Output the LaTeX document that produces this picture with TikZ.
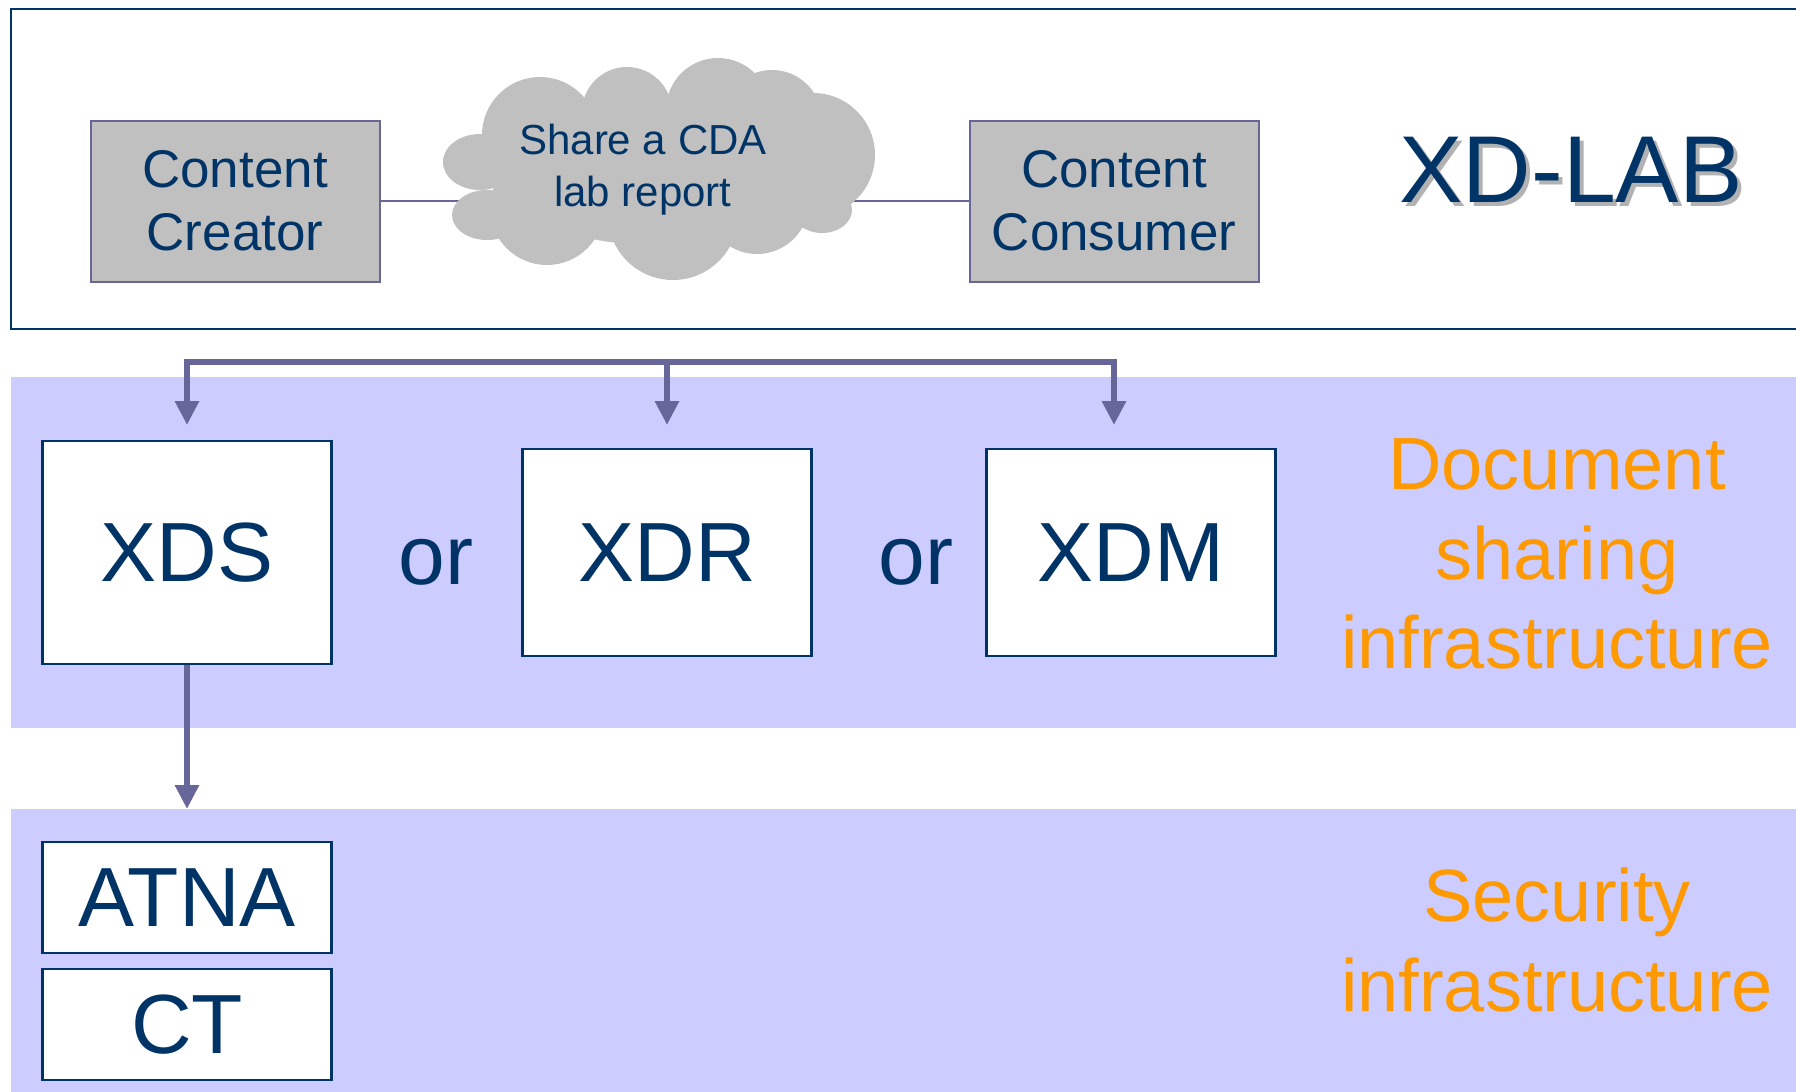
\documentclass[tikz,border=0pt]{standalone}
\usepackage{fontspec}
\setmainfont{Liberation Sans}
\usetikzlibrary{arrows.meta}

\definecolor{navy}{HTML}{003366}
\definecolor{bandfill}{HTML}{CCCCFF}
\definecolor{wire}{HTML}{666699}
\definecolor{cloudgray}{HTML}{C0C0C0}
\definecolor{layertext}{HTML}{FF9900}
\definecolor{shade}{HTML}{B2B2B2}

\newcommand\fsz[2]{\fontsize{#1}{#2}\selectfont}

\begin{document}
\begin{tikzpicture}[x=1pt,y=-1pt,
  actorbox/.style={draw=wire, line width=2pt, fill=cloudgray,
    minimum width=289pt, minimum height=161pt, inner sep=0pt,
    align=center, text=navy, font=\fsz{53}{63}},
  profbox/.style={draw=navy, line width=2.5pt, fill=white,
    minimum width=289pt, inner sep=0pt, text=navy, font=\fsz{84}{100}},
  bigtip/.tip={Triangle[length=24pt,width=23pt]},
  wirearrow/.style={draw=wire, line width=6.5pt, -bigtip},
  thinwire/.style={draw=wire, line width=2pt},
  infra/.style={text=layertext, align=center, font=\fsz{74}{89.5}},
  ]

% page and clipping
\fill[white] (0,0) rectangle (1796,1092);
\useasboundingbox (0,0) rectangle (1796,1092);
\clip (0,0) rectangle (1796,1092);

% top frame and the two shaded layers
\draw[navy, line width=2.5pt] (11,9) rectangle (1830,329);
\fill[bandfill] (11,377) rectangle (1830,728);
\fill[bandfill] (11,809) rectangle (1830,1110);

% actors
\node[actorbox] (creator) at (235,201) {Content\\Creator};
\node[actorbox] (consumer) at (1114,201) {Content\\Consumer};
\draw[thinwire] (creator) -- (consumer);

% cloud
\fill[cloudgray]
  (480,162) ellipse [x radius=37, y radius=28]
  (487,215) ellipse [x radius=35, y radius=25]
  (540,135) circle [radius=58]
  (627,112) circle [radius=45]
  (718,110) circle [radius=52]
  (772,120) circle [radius=50]
  (813,155) circle [radius=62]
  (822,210) ellipse [x radius=30, y radius=23]
  (757,202) circle [radius=52]
  (673,215) circle [radius=65]
  (547,208) circle [radius=57]
  (655,170) ellipse [x radius=160, y radius=75];
\node[text=navy, align=center, font=\fsz{42}{52}] (cloud) at (643,170)
  {Share a CDA\\lab report};

% title with drop shadow
\node[text=shade, font=\fsz{95}{110}] (titleshadow) at (1575,174) {XD-LAB};
\node[text=navy, font=\fsz{95}{110}] (title) at (1571,170) {XD-LAB};

% document sharing profiles
\node[profbox, minimum height=223pt] (xds) at (187,552.5) {XDS};
\node[profbox, minimum height=207pt] (xdr) at (667,552.5) {XDR};
\node[profbox, minimum height=207pt] (xdm) at (1131,552.5) {XDM};
\node[text=navy, font=\fsz{84}{100}, anchor=base] (or1) at (436,584) {or};
\node[text=navy, font=\fsz{84}{100}, anchor=base] (or2) at (916,584) {or};

% security profiles
\node[profbox, minimum height=111pt] (atna) at (187,897.5) {ATNA};
\node[profbox, minimum height=111pt] (ct) at (187,1024.5) {CT};

% layer captions
\node[infra] (docinfra) at (1557,554) {Document\\sharing\\infrastructure};
\node[infra] (secinfra) at (1557,940) {Security\\infrastructure};

% distribution bus
\coordinate (busL) at (xds.center |- 0,362);
\coordinate (busM) at (xdr.center |- 0,362);
\coordinate (busR) at (consumer.center |- 0,362);
\coordinate (tipL) at (xds.center |- 0,425);
\coordinate (tipM) at (xdr.center |- 0,425);
\coordinate (tipR) at (consumer.center |- 0,425);
\draw[draw=wire, line width=6.5pt, bigtip-bigtip]
  (tipL) -- (busL) -- (busR) -- (tipR);
\draw[wirearrow] (busM) -- (tipM);

% XDS relies on the security layer
\coordinate (tipS) at (xds.center |- 0,809);
\draw[wirearrow] (xds.south) -- (tipS);
\end{tikzpicture}
\end{document}
